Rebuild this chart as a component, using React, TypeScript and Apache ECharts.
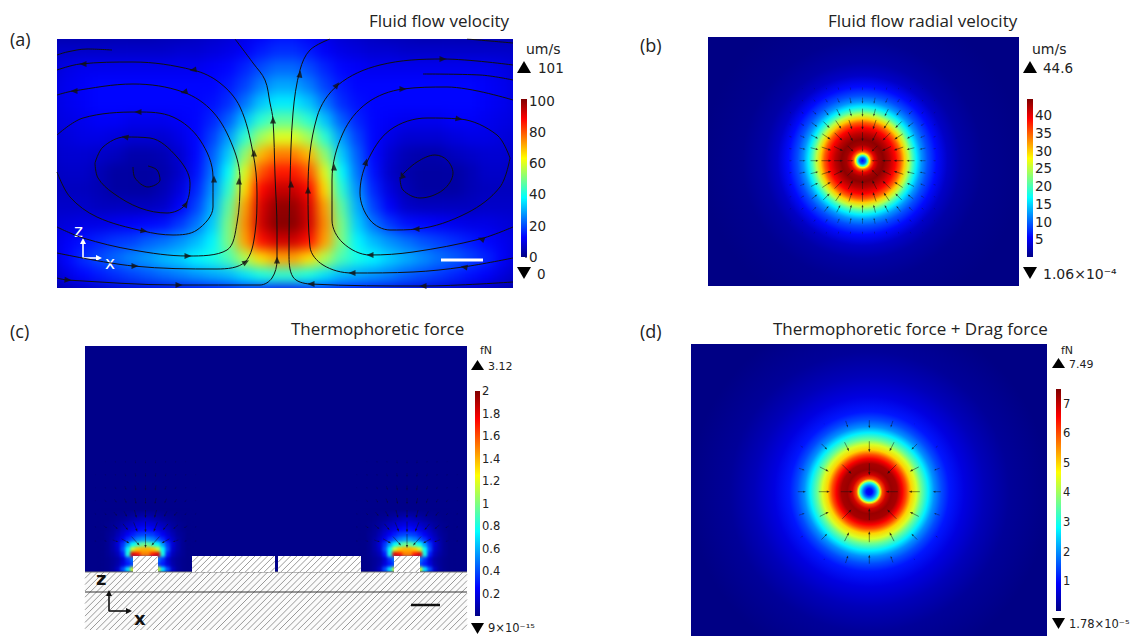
import React, { useEffect, useRef } from "react";
import * as echarts from "echarts";

const JET = ["#000085", "#0000ff", "#007fff", "#00ffff", "#7fff7f", "#ffff00", "#ff7f00", "#ff0000", "#7f0000"];
const FIELD_BG = "#00008a";

// ---------- panel (a): velocity magnitude, um/s, read on a coarse grid ----------
const velocityRows = [
  [4,4,4,4,4,4,4,5,5,6,7,8,10,12,14,14,12,10,8,7,6,5,5,4,4,4,4,4,4,4],
  [7,7,7,7,7,7,7,7,8,8,9,10,12,15,17,17,15,12,10,9,8,8,7,7,7,7,7,7,7,7],
  [8,10,11,11,11,11,11,11,11,11,12,13,16,20,23,23,20,16,13,12,11,11,11,11,11,11,11,11,10,8],
  [9,11,12,13,13,13,13,13,13,13,13,15,19,25,29,29,25,19,15,13,13,13,13,13,13,13,13,12,11,9],
  [9,11,12,13,13,13,13,13,13,13,14,17,24,32,36,36,32,24,17,14,13,13,13,13,13,13,13,12,11,9],
  [9,10,11,12,12,11,11,11,12,13,16,22,32,42,47,47,42,32,22,16,13,12,11,11,11,12,12,11,10,9],
  [8,9,10,10,9,8,8,8,10,13,19,28,42,54,60,60,54,42,28,19,13,10,8,8,8,9,10,10,9,8],
  [7,8,8,7,6,4,4,5,8,13,22,33,52,70,76,76,70,52,33,22,13,8,5,4,4,6,7,8,8,7],
  [6,7,7,5,3,3,3,4,7,14,24,38,60,80,86,86,80,60,38,24,14,7,4,3,3,3,5,7,7,6],
  [6,6,6,5,3,3,3,5,9,16,27,42,66,88,94,94,88,66,42,27,16,9,5,3,3,3,5,6,6,6],
  [7,7,7,6,6,6,6,7,12,19,30,47,72,92,99,99,92,72,47,30,19,12,7,6,6,6,6,7,7,7],
  [8,9,10,10,11,12,13,14,18,24,33,50,74,93,100,100,93,74,50,33,24,18,14,13,12,11,10,10,9,8],
  [9,12,14,16,18,19,22,24,27,31,37,50,72,87,93,93,87,72,50,37,31,27,24,21,19,17,15,13,11,9],
  [8,13,17,20,23,26,28,31,33,37,40,45,55,66,72,72,66,55,45,40,37,33,30,27,24,22,19,16,12,8],
  [6,10,13,15,17,19,21,23,25,27,29,31,35,40,42,42,40,35,31,29,27,25,22,20,18,16,14,12,9,6],
  [3,4,5,6,7,8,9,10,11,12,13,14,15,14,12,12,14,15,14,13,12,11,10,9,8,7,6,5,4,3],
];

// streamlines as [x, y] in page pixels
const streamTopLeftShort = [[57,55],[67,52],[87,49],[112,50]];
const streamLeftOuter = [[57,70],[80,64],[133,62],[193,70],[220,83],[240,107],[253,153],[257,193],[255,233],[245,262],[217,269],[133,266],[57,253]];
const streamLeftMiddle = [[57,95],[73,91],[133,84],[183,92],[213,112],[233,147],[240,180],[237,223],[227,250],[188,256],[133,250],[83,238],[57,227]];
const streamLeftInner = [[57,135],[83,118],[137,112],[173,117],[200,140],[213,177],[213,207],[197,230],[173,235],[143,231],[97,217],[70,197],[57,172]];
const streamLeftLoop = [[95,163],[103,147],[125,137],[150,138],[177,157],[190,183],[185,205],[167,213],[140,208],[113,193],[98,178],[95,163]];
const streamLeftSpiral = [[133,167],[135,178],[148,187],[160,180],[157,170],[148,166]];
const streamCentreLeft = [[235,39],[253,63],[265,80],[270,103],[273,120],[275,175],[277,230],[277,260],[272,278],[260,285],[177,285],[67,280],[57,278]];
const streamCentreRight = [[330,39],[310,50],[300,70],[293,113],[290,183],[289,253],[293,277],[310,284],[423,286],[513,282]];
const streamRightOuter = [[513,65],[443,59],[380,65],[338,85],[317,117],[308,190],[310,247],[323,265],[352,273],[413,272],[463,267],[513,258]];
const streamRightMiddle = [[513,100],[447,87],[403,89],[367,103],[343,133],[332,180],[332,220],[343,243],[370,255],[413,252],[480,239],[513,227]];
const streamRightInner = [[510,158],[497,135],[460,119],[427,118],[390,130],[367,162],[360,193],[370,220],[390,230],[417,229],[467,213],[500,187],[510,158]];
const streamRightSpiral = [[400,177],[403,190],[420,198],[443,190],[453,173],[447,160],[435,155],[417,162],[402,175]];
const streamRightShort = [[423,74],[480,75],[513,80]];
const streamTopRight = [[467,39],[513,43]];
const streamlines = [streamTopLeftShort, streamLeftOuter, streamLeftMiddle, streamLeftInner, streamLeftLoop, streamLeftSpiral, streamCentreLeft, streamCentreRight, streamRightOuter, streamRightMiddle, streamRightInner, streamRightSpiral, streamRightShort, streamTopRight];
// [x, y, rotation in degrees]
const streamHeads = [
  [83,64,90],[193,70,100],[254,153,0],[246,262,-60],[135,266,-90],
  [74,91,90],[184,92,105],[239,181,0],[188,256,-90],
  [138,112,90],[214,179,0],[144,231,-100],
  [125,137,80],[186,204,-30],
  [273,120,0],[277,260,0],[179,285,-90],[68,280,-95],
  [300,74,-10],[291,184,0],[311,284,90],[423,286,90],
  [443,59,-90],[337,85,-40],[308,190,0],[352,273,90],[464,267,80],
  [403,89,-90],[334,167,0],[370,255,90],[481,239,70],
  [459,119,-100],[366,162,-15],[416,229,90],
  [402,175,20],
];

// ---------- panel (b): radial profile and arrow lengths ----------
const radialRadiusB = [0,3,5,7,9,12,16,21,27,33,38,42,46,50,54,59,65,74,85,98,120,160];
const radialValueB = [6,10,18,28,35,40,43,44,42,39,35,30,25,20,16,12,9,6,3,1.5,0.5,0];
const arrowLengthB = [
  [0,1,2,2,3,3,3,3,3,2,2,1,0],
  [1,2,3,4,5,6,6,6,5,4,3,2,1],
  [2,3,5,7,8,8,8,8,8,7,5,3,2],
  [2,4,7,9,10,10,10,10,10,9,7,4,2],
  [3,5,8,10,11,10,9,10,11,10,8,5,3],
  [3,6,8,10,10,8,6,8,10,10,8,6,3],
  [3,6,8,10,9,6,0,6,9,10,8,6,3],
  [3,6,8,10,10,8,6,8,10,10,8,6,3],
  [3,5,8,10,11,10,9,10,11,10,8,5,3],
  [2,4,7,9,10,10,10,10,10,9,7,4,2],
  [2,3,5,7,8,8,8,8,8,7,5,3,2],
  [1,2,3,4,5,6,6,6,5,4,3,2,1],
  [0,1,2,2,3,3,3,3,3,2,2,1,0],
];

// ---------- panel (c): hot spot above a post, 18 x 12 cells, and arrow fan ----------
const hotSpotRows = [
  [.01,.01,.01,.02,.02,.03,.04,.05,.06,.06,.05,.04,.03,.02,.02,.01,.01,.01],
  [.01,.01,.02,.03,.04,.06,.08,.1,.12,.12,.1,.08,.06,.04,.03,.02,.01,.01],
  [.01,.02,.03,.05,.08,.11,.14,.17,.19,.19,.17,.14,.11,.08,.05,.03,.02,.01],
  [.01,.02,.04,.07,.12,.16,.2,.25,.27,.27,.25,.2,.16,.12,.07,.04,.02,.01],
  [.01,.03,.05,.1,.16,.23,.3,.36,.38,.38,.36,.3,.23,.16,.1,.05,.03,.01],
  [.01,.03,.07,.13,.22,.33,.42,.5,.55,.55,.5,.42,.33,.22,.13,.07,.03,.01],
  [.01,.03,.08,.17,.35,.55,.75,.85,.95,.95,.85,.75,.55,.35,.17,.08,.03,.01],
  [.01,.03,.08,.15,.4,.75,1.15,1.35,1.4,1.4,1.35,1.15,.75,.4,.15,.08,.03,.01],
  [.01,.03,.06,.11,.3,.8,1.8,1.7,1.5,1.5,1.7,1.8,.8,.3,.11,.06,.03,.01],
  [.01,.02,.04,.07,.16,.35,.5,.3,.3,.3,.3,.5,.35,.16,.07,.04,.02,.01],
  [.01,.02,.04,.08,.18,.3,.4,.3,.3,.3,.3,.4,.3,.18,.08,.04,.02,.01],
  [.01,.02,.05,.13,.4,.7,1.2,.3,.3,.3,.3,1.2,.7,.4,.13,.05,.02,.01],
];
const arrowRowsYC = [541,527,514,501,488,475,462];
const arrowLengthC = [
  [2,3,6,9,12,14,12,9,6,3,2],
  [2,4,6,8,10,11,10,8,6,4,2],
  [2,3,5,6,8,8,8,6,5,3,2],
  [1,3,4,5,6,6,6,5,4,3,1],
  [1,2,3,4,5,5,5,4,3,2,1],
  [1,2,2,3,4,4,4,3,2,2,1],
  [0,1,2,2,3,3,3,2,2,1,0],
];
const postCentresC = [145.5, 407];

// ---------- panel (d) ----------
const radialRadiusD = [0,3,6,9,11,13,17,22,28,33,37,42,47,52,59,65,72,80,95,115,140,180];
const radialValueD = [0.8,1,1.8,3,4.5,6,6.9,7.3,7.2,6.6,6,5,4.4,3.6,2.7,2,1.5,1.1,0.7,0.4,0.15,0];
const arrowLengthD = [
  [0,1,7,8,7,1,0],
  [3,8,10,11,10,8,3],
  [6,10,13,12,13,10,6],
  [8,11,12,0,12,11,8],
  [6,10,13,12,13,10,6],
  [3,8,10,11,10,8,3],
  [0,2,8,9,7,2,0],
];

// ---------- colour scales ----------
const scaleA = { max: 101, ticks: [0,20,40,60,80,100] };
const scaleB = { max: 44.6, ticks: [5,10,15,20,25,30,35,40] };
const scaleC = { max: 2, ticks: [0.2,0.4,0.6,0.8,1,1.2,1.4,1.6,1.8,2] };
const scaleD = { max: 7.49, ticks: [1,2,3,4,5,6,7] };

const hex = (s: string) => [1, 3, 5].map((i) => parseInt(s.slice(i, i + 2), 16));
function jetColor(t: number) {
  const p = Math.max(0, Math.min(1, t)) * (JET.length - 1);
  const i = Math.min(JET.length - 2, Math.floor(p));
  const a = hex(JET[i]), b = hex(JET[i + 1]), f = p - i;
  return `rgb(${a.map((v, k) => Math.round(v + (b[k] - v) * f)).join(",")})`;
}
const jetStops = () => JET.map((color, i) => ({ offset: i / (JET.length - 1), color }));

const SANS = "Open Sans";
const DEJA = "DejaVu Sans";
const txt = (text: string, x: number, y: number, font: string, size: number, fill = "#222", weight = "normal") => ({
  type: "text", x, y, silent: true,
  style: { text, fill, fontFamily: font, fontSize: size, fontWeight: weight, align: "left", verticalAlign: "middle", textAlign: "left", textVerticalAlign: "middle" },
});
const seg = (x1: number, y1: number, x2: number, y2: number, stroke: string, lineWidth: number) => ({
  type: "line", silent: true, shape: { x1, y1, x2, y2 }, style: { stroke, lineWidth },
});
const tri = (pts: number[][], fill: string) => ({ type: "polygon", silent: true, shape: { points: pts }, style: { fill } });
const upTri = (x: number, y: number, w: number, h: number) => tri([[x, y + h], [x + w / 2, y], [x + w, y + h]], "#000");
const downTri = (x: number, y: number, w: number, h: number) => tri([[x, y], [x + w, y], [x + w / 2, y + h]], "#000");

function triad(ox: number, oy: number, up: number, right: number, color: string, lw: number) {
  return [
    seg(ox, oy, ox, oy - up + 5, color, lw),
    seg(ox, oy, ox + right - 5, oy, color, lw),
    tri([[ox - 3, oy - up + 6], [ox, oy - up], [ox + 3, oy - up + 6]], color),
    tri([[ox + right - 6, oy - 3], [ox + right, oy], [ox + right - 6, oy + 3]], color),
  ];
}

function hatch(x0: number, y0: number, x1: number, y1: number, step: number, color = "#555") {
  const out: any[] = [];
  for (let k = x0 + y0 + step; k < x1 + y1; k += step) {
    const ax = Math.max(x0, k - y1), ay = k - ax;
    const bx = Math.min(x1, k - y0), by = k - bx;
    out.push(seg(ax, ay, bx, by, color, 0.6));
  }
  return out;
}

function arrowItem(params: any, api: any) {
  const p = api.coord([api.value(0), api.value(1)]);
  const q = api.coord([api.value(3), api.value(4)]);
  const len = api.value(2);
  if (!len) return { type: "group", children: [] };
  const d = Math.hypot(q[0] - p[0], q[1] - p[1]) || 1;
  const ux = (q[0] - p[0]) / d, uy = (q[1] - p[1]) / d;
  const hx = p[0] + (ux * len) / 2, hy = p[1] + (uy * len) / 2;
  const tx = p[0] - (ux * len) / 2, ty = p[1] - (uy * len) / 2;
  const hs = Math.min(3, 0.8 + len * 0.22), hw = hs * 0.38;
  const opacity = Math.min(0.8, 0.12 + len * 0.08);
  return {
    type: "group",
    children: [
      { type: "line", shape: { x1: tx, y1: ty, x2: hx - ux * hs * 0.7, y2: hy - uy * hs * 0.7 }, style: { stroke: "#111", lineWidth: 0.6, opacity } },
      { type: "polygon", shape: { points: [[hx, hy], [hx - ux * hs - uy * hw, hy - uy * hs + ux * hw], [hx - ux * hs + uy * hw, hy - uy * hs - ux * hw]] }, style: { fill: "#111", opacity } },
    ],
  };
}

const matrixArrows = (m: number[][], cx: number, cy: number, step: number) =>
  m.flatMap((row, j) =>
    row.map((len, i) => [cx + (i - (row.length - 1) / 2) * step, cy + (j - (m.length - 1) / 2) * step, len, cx, cy])
  );

function radialSeries(grid: number, cx: number, cy: number, radii: number[], values: number[], max: number) {
  const R = radii[radii.length - 1];
  return {
    type: "custom", xAxisIndex: grid, yAxisIndex: grid, silent: true, data: [[cx, cy]], clip: true,
    renderItem: (params: any, api: any) => {
      const c = api.coord([api.value(0), api.value(1)]);
      const s = params.coordSys;
      const stops = radii.map((r, i) => ({ offset: r / R, color: jetColor(values[i] / max) }));
      return {
        type: "rect",
        shape: { x: s.x, y: s.y, width: s.width, height: s.height },
        style: { fill: new echarts.graphic.RadialGradient(c[0], c[1], R, stops, true) },
      };
    },
  };
}

const arrowSeries = (grid: number, data: number[][]) => ({
  type: "custom", xAxisIndex: grid, yAxisIndex: grid, silent: true, data, renderItem: arrowItem, z: 5,
  encode: { x: 0, y: 1 },
});

const panels = [
  { left: 57, top: 39, right: 513, bottom: 288 },
  { left: 708, top: 37, right: 1019, bottom: 286 },
  { left: 85, top: 346, right: 467, bottom: 630 },
  { left: 691, top: 344, right: 1047, bottom: 636 },
];
const bars = [
  { left: 521, top: 99, width: 6, height: 158, scale: scaleA, size: 13.5 },
  { left: 1027, top: 99, width: 6, height: 158, scale: scaleB, size: 13.5 },
  { left: 475, top: 391, width: 5, height: 225, scale: scaleC, size: 11.5 },
  { left: 1056, top: 389, width: 5, height: 222, scale: scaleD, size: 11.5 },
];

function mainOption() {
  const grid: any[] = panels.map((p) => ({ left: p.left, top: p.top, width: p.right - p.left, height: p.bottom - p.top }));
  const xAxis: any[] = panels.map((p, i) => ({ gridIndex: i, type: "value", min: p.left, max: p.right, show: false }));
  const yAxis: any[] = panels.map((p, i) => ({ gridIndex: i, type: "value", min: p.top, max: p.bottom, inverse: true, show: false }));
  const series: any[] = [];
  bars.forEach((b, k) => {
    const g = panels.length + k;
    grid.push({ left: b.left, top: b.top, width: b.width, height: b.height });
    xAxis.push({ gridIndex: g, type: "category", data: ["scale"], show: false });
    yAxis.push({
      gridIndex: g, type: "value", min: 0, max: b.scale.max, position: "right",
      axisLine: { show: false }, splitLine: { show: false },
      axisTick: { show: true, inside: true, length: 2, lineStyle: { color: "#222", width: 0.6 }, customValues: b.scale.ticks },
      axisLabel: { show: true, margin: 2, color: "#222", fontFamily: DEJA, fontSize: b.size, customValues: b.scale.ticks, hideOverlap: false },
    });
    series.push({
      type: "bar", xAxisIndex: g, yAxisIndex: g, barWidth: "100%", silent: true, data: [b.scale.max],
      itemStyle: { color: new echarts.graphic.LinearGradient(0, 1, 0, 0, jetStops()) },
    });
  });
  streamlines.forEach((pts) =>
    series.push({
      type: "line", xAxisIndex: 0, yAxisIndex: 0, data: pts, smooth: 0.35, showSymbol: false, symbol: "none", silent: true,
      lineStyle: { color: "#111", width: 1 },
    })
  );
  series.push({
    type: "scatter", xAxisIndex: 0, yAxisIndex: 0, silent: true, z: 4,
    symbol: "triangle", symbolSize: [6, 7], itemStyle: { color: "#111" },
    data: streamHeads.map((h) => ({ value: [h[0], h[1]], symbolRotate: h[2] })),
  });
  series.push(radialSeries(1, 862.5, 160.7, radialRadiusB, radialValueB, scaleB.max));
  series.push(arrowSeries(1, matrixArrows(arrowLengthB, 862.5, 160.7, 12)));
  series.push(arrowSeries(2, postCentresC.flatMap((cx) =>
    arrowLengthC.flatMap((row, j) => row.map((len, i) => [cx + (i - 5) * 10, arrowRowsYC[j], len, cx, 552]))
  )));
  series.push(radialSeries(3, 869.3, 491.7, radialRadiusD, radialValueD, scaleD.max));
  series.push(arrowSeries(3, matrixArrows(arrowLengthD, 869.3, 491.7, 22.5)));

  const graphic: any[] = [
    txt("(a)", 10, 39, SANS, 18),
    txt("Fluid flow velocity", 369, 20, SANS, 17),
    txt("um/s", 526, 49, DEJA, 14),
    upTri(517, 61, 14, 12),
    txt("101", 538, 68, DEJA, 13.5),
    downTri(517, 267, 14, 12),
    txt("0", 537, 274, DEJA, 13.5),
    seg(441, 260, 483, 260, "#fff", 3),
    ...triad(83, 258, 20, 19, "#fff", 1.6),
    txt("z", 74, 231, DEJA, 17, "#fff"),
    txt("x", 105, 263, DEJA, 17, "#fff"),

    txt("(b)", 640, 45, SANS, 18),
    txt("Fluid flow radial velocity", 828, 20, SANS, 17),
    txt("um/s", 1032, 49, DEJA, 14),
    upTri(1023, 61, 14, 12),
    txt("44.6", 1043, 68, DEJA, 13.5),
    downTri(1023, 267, 14, 12),
    txt("1.06×10⁻⁴", 1043, 274, DEJA, 14),
    seg(930, 259, 995, 259, "#fff", 3),
    ...triad(739, 260, 18, 18, "#fff", 1.4),
    txt("y", 731, 231, DEJA, 17, "#fff"),
    txt("x", 762, 262, DEJA, 17, "#fff"),

    txt("(c)", 10, 331, SANS, 18),
    txt("Thermophoretic force", 291, 328, SANS, 17),
    txt("fN", 480, 350, DEJA, 11),
    upTri(471, 360, 13, 10),
    txt("3.12", 488, 366, DEJA, 11),
    downTri(471, 623, 13, 11),
    txt("9×10⁻¹⁵", 488, 628, DEJA, 11.5),
    { type: "rect", silent: true, shape: { x: 85, y: 572, width: 382, height: 58 }, style: { fill: "#fbfbfb" } },
    ...hatch(85, 572, 467, 630, 6.3),
    seg(85, 572, 467, 572, "#777", 1.2),
    seg(85, 592, 467, 592, "#333", 1),
    ...[[133, 158], [192, 275], [278, 361], [394, 420]].flatMap(([a, b]) => [
      { type: "rect", silent: true, shape: { x: a, y: 556, width: b - a, height: 16 }, style: { fill: "#fff" } },
      ...hatch(a, 556, b, 572, 6.3),
    ]),
    seg(411, 605, 440, 605, "#111", 2.5),
    ...triad(109, 611, 21, 23, "#111", 1.6),
    txt("z", 96, 578, DEJA, 18, "#111", "bold"),
    txt("x", 134, 618, DEJA, 18, "#111", "bold"),

    txt("(d)", 640, 331, SANS, 18),
    txt("Thermophoretic force + Drag force", 773, 328, SANS, 17),
    txt("fN", 1061, 350, DEJA, 11),
    upTri(1052, 358, 13, 10),
    txt("7.49", 1069, 364, DEJA, 11),
    downTri(1052, 618, 13, 11),
    txt("1.78×10⁻⁵", 1069, 624, DEJA, 11.5),
    seg(955, 602, 1011, 602, "#fff", 2.5),
    ...triad(729, 606, 22, 23, "#fff", 1.8),
    txt("y", 718, 572, DEJA, 18, "#fff", "bold"),
    txt("x", 755, 610, DEJA, 18, "#fff", "bold"),
  ];
  return { animation: false, backgroundColor: "transparent", grid, xAxis, yAxis, series, graphic };
}

const cellData = (rows: number[][]) => rows.flatMap((row, j) => row.map((v, i) => [i, j, v]));
const indexList = (n: number) => Array.from({ length: n }, (_, i) => String(i));

function velocityOption() {
  return {
    animation: false,
    grid: { left: 0, top: 0, right: 0, bottom: 0 },
    xAxis: { type: "category", show: false, data: indexList(velocityRows[0].length) },
    yAxis: { type: "category", show: false, inverse: true, data: indexList(velocityRows.length) },
    visualMap: { show: false, min: 0, max: scaleA.max, inRange: { color: JET } },
    series: [{ type: "heatmap", silent: true, data: cellData(velocityRows), itemStyle: { borderWidth: 0 } }],
  };
}

function hotSpotOption() {
  const spots = [100.5 - 85, 362 - 85];
  return {
    animation: false,
    grid: spots.map((left) => ({ left, top: 512 - 346, width: 90, height: 60 })),
    xAxis: spots.map((_, i) => ({ gridIndex: i, type: "category", show: false, inverse: i === 1, data: indexList(hotSpotRows[0].length) })),
    yAxis: spots.map((_, i) => ({ gridIndex: i, type: "category", show: false, inverse: true, data: indexList(hotSpotRows.length) })),
    visualMap: { show: false, min: 0, max: scaleC.max, seriesIndex: [0, 1], inRange: { color: JET } },
    series: spots.map((_, i) => ({ type: "heatmap", silent: true, xAxisIndex: i, yAxisIndex: i, data: cellData(hotSpotRows) })),
  };
}

export default function App() {
  const mainRef = useRef<HTMLDivElement>(null);
  const velRef = useRef<HTMLDivElement>(null);
  const hotRef = useRef<HTMLDivElement>(null);
  useEffect(() => {
    const vel = echarts.init(velRef.current!, null, { renderer: "svg" });
    vel.setOption(velocityOption() as any);
    const hot = echarts.init(hotRef.current!, null, { renderer: "svg" });
    hot.setOption(hotSpotOption() as any);
    const main = echarts.init(mainRef.current!, null, { renderer: "svg" });
    main.setOption(mainOption() as any);
    return () => {
      vel.dispose();
      hot.dispose();
      main.dispose();
    };
  }, []);
  const abs = { position: "absolute" } as const;
  return (
    <div style={{ ...abs, left: 0, top: 0, width: 1132, height: 636, background: "#fff", overflow: "hidden" }}>
      <div style={{ ...abs, left: 57, top: 39, width: 456, height: 249, overflow: "hidden", background: "#0000c0" }}>
        <div ref={velRef} style={{ ...abs, left: -14, top: -14, width: 484, height: 277, filter: "blur(6px)" }} />
      </div>
      <div style={{ ...abs, left: 85, top: 346, width: 382, height: 226, overflow: "hidden", background: FIELD_BG }}>
        <div ref={hotRef} style={{ ...abs, left: 0, top: 0, width: 382, height: 226, filter: "blur(1.6px)" }} />
      </div>
      <div ref={mainRef} style={{ ...abs, left: 0, top: 0, width: 1132, height: 636 }} />
    </div>
  );
}
